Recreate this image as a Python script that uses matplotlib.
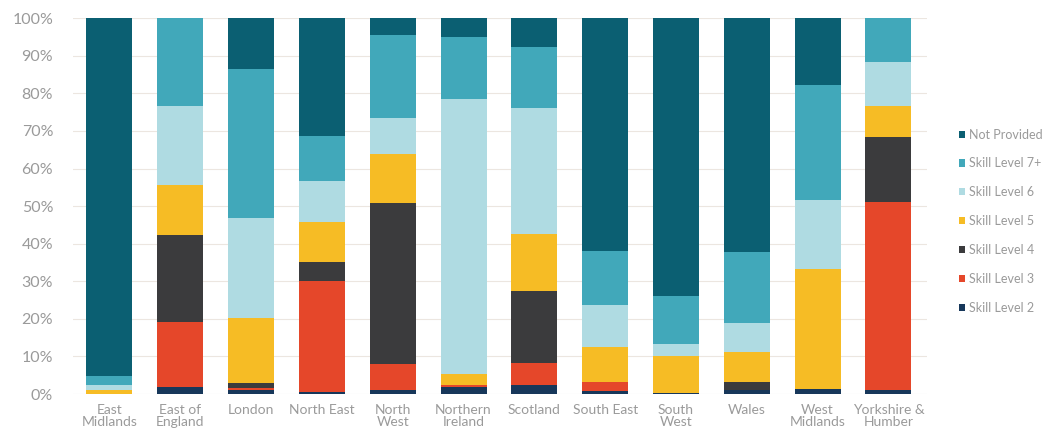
import matplotlib.pyplot as plt
import numpy as np
from matplotlib.ticker import PercentFormatter

regions = ["East\nMidlands", "East of\nEngland", "London", "North East", "North\nWest",
           "Northern\nIreland", "Scotland", "South East", "South\nWest", "Wales",
           "West\nMidlands", "Yorkshire &\nHumber"]

# share of each skill level per region (%), stacked bottom to top
skill_2 = [0.0, 1.8, 1.2, 0.5, 1.0, 2.0, 2.5, 0.9, 0.3, 1.0, 1.3, 1.0]
skill_3 = [0.0, 17.3, 0.3, 29.5, 7.1, 0.3, 5.7, 2.2, 0.0, 0.0, 0.0, 50.1]
skill_4 = [0.0, 23.1, 1.5, 5.1, 42.7, 0.0, 19.1, 0.0, 0.0, 2.1, 0.0, 17.3]
skill_5 = [1.2, 13.4, 17.2, 10.7, 13.1, 3.0, 15.4, 9.3, 9.9, 8.0, 32.0, 8.2]
skill_6 = [1.2, 21.0, 26.7, 10.8, 9.6, 73.2, 33.3, 11.4, 3.1, 7.7, 18.3, 11.8]
skill_7 = [2.5, 23.4, 39.5, 12.0, 22.0, 16.4, 16.3, 14.2, 12.9, 19.0, 30.6, 11.6]
not_provided = [95.1, 0.0, 13.6, 31.4, 4.5, 5.1, 7.7, 62.0, 73.8, 62.2, 17.8, 0.0]

series = [
    ("Skill Level 2", skill_2, "#17375a"),
    ("Skill Level 3", skill_3, "#e5472a"),
    ("Skill Level 4", skill_4, "#3b3b3d"),
    ("Skill Level 5", skill_5, "#f6bc25"),
    ("Skill Level 6", skill_6, "#afdbe2"),
    ("Skill Level 7+", skill_7, "#41a8ba"),
    ("Not Provided", not_provided, "#0b5f72"),
]

plt.rcParams['font.family'] = ['Lato', 'DejaVu Sans']
text_col = "#9a9a9a"

fig = plt.figure(figsize=(10.53, 4.34), dpi=100)
ax = fig.add_axes([0.069, 0.092, 0.811, 0.866])

x = np.arange(len(regions))
bottom = np.zeros(len(regions))
handles = []
for name, vals, col in series:
    vals = np.array(vals)
    b = ax.bar(x, vals, 0.65, bottom=bottom, color=col, label=name, zorder=2)
    handles.append(b)
    bottom += vals

ax.set_xlim(-0.52, 11.54)
ax.set_ylim(0, 100)
ax.set_yticks(np.arange(0, 101, 10))
ax.yaxis.set_major_formatter(PercentFormatter(decimals=0))
ax.set_xticks(x)
ax.set_xticklabels(regions, fontsize=10, color=text_col, linespacing=1.0)
ax.tick_params(axis='y', labelsize=11.5, colors=text_col, length=0, pad=14)
ax.tick_params(axis='x', length=0, pad=7)
ax.grid(axis='y', color="#ece6e0", linewidth=0.8, zorder=0)
for s in ax.spines.values():
    s.set_visible(False)

leg = ax.legend(handles[::-1], [s[0] for s in series][::-1], loc='center left',
                bbox_to_anchor=(1.025, 0.46), frameon=False, fontsize=9,
                handlelength=0.5, handleheight=0.5, handletextpad=0.3,
                labelspacing=1.35, labelcolor=text_col)

fig.savefig("out.png", dpi=100)
